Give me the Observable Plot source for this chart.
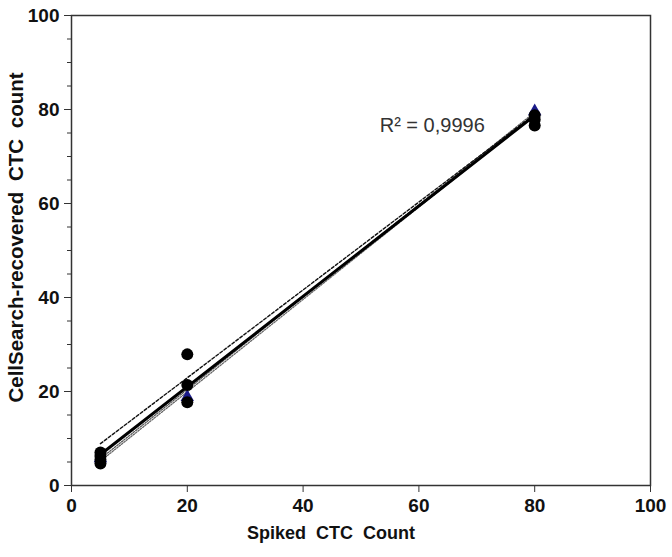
<!DOCTYPE html>
<html><head><meta charset="utf-8">
<script src="https://cdn.jsdelivr.net/npm/d3@7"></script>
<script src="https://cdn.jsdelivr.net/npm/@observablehq/plot@0.6"></script>
<style>body{margin:0;background:#fff}
.wide text{word-spacing:5px}</style>
</head><body><div id="chart"></div>
<script>
const spiked = [5, 5, 5, 5, 20, 20, 20, 80, 80, 80];
const recovered = [4.7, 5.5, 6.3, 7.0, 27.9, 21.4, 17.7, 76.6, 77.8, 78.8];
const meanX = [5, 20, 80];
const meanY = [5.8, 18.8, 79.6];
const fitX = [5, 80];
const fitY = [6.6, 78.7];
const dashedY = [8.9, 79.0];
const dotted1Y = [5.7, 79.4];
const dotted2Y = [5.2, 78.9];
const majorTicks = [0, 20, 40, 60, 80, 100];
const minorTicksY = d3.range(0, 101, 5);
const r2Label = "R² = 0,9996";

const pts = spiked.map((x, i) => ({x, y: recovered[i]}));
const means = meanX.map((x, i) => ({x, y: meanY[i]}));
const seg = (ys) => fitX.map((x, i) => ({x, y: ys[i]}));

const font = "'Liberation Sans', Arial, sans-serif";
const chart = Plot.plot({
  width: 672, height: 557,
  marginLeft: 71, marginRight: 22, marginTop: 15, marginBottom: 72,
  style: {fontFamily: font, background: "#fff"},
  x: {domain: [0, 100]},
  y: {domain: [0, 100]},
  marks: [
    Plot.frame({stroke: "#333", strokeWidth: 1.5}),
    Plot.axisY({ticks: minorTicksY, tickSize: 4, text: null, stroke: "#333", label: null}),
    Plot.axisY({ticks: majorTicks, tickSize: 7, tickPadding: 5, stroke: "#333", fill: "#111",
      fontSize: 19, fontWeight: "bold", label: null}),
    Plot.axisX({ticks: majorTicks, tickSize: 7, tickPadding: 6, stroke: "#333", fill: "#111",
      fontSize: 19, fontWeight: "bold", label: null}),
    Plot.text(["Spiked CTC Count"], {frameAnchor: "bottom", dx: -30, dy: 53, fontSize: 18, fontWeight: "bold", fill: "#111", className: "wide"}),
    Plot.text(["CellSearch-recovered CTC count"], {frameAnchor: "left", dx: -55, dy: -13, rotate: -90, textAnchor: "middle", fontSize: 20.5, fontWeight: "bold", fill: "#111", className: "wide"}),
    Plot.line(seg(dotted2Y), {x: "x", y: "y", stroke: "#666", strokeWidth: 1.3, strokeDasharray: "1.5,1.5"}),
    Plot.line(seg(dotted1Y), {x: "x", y: "y", stroke: "#555", strokeWidth: 1.3, strokeDasharray: "1.5,1.5"}),
    Plot.line(seg(dashedY), {x: "x", y: "y", stroke: "#111", strokeWidth: 1.4, strokeDasharray: "3,2"}),
    Plot.line(seg(fitY), {x: "x", y: "y", stroke: "#000", strokeWidth: 3}),
    Plot.dot(means, {x: "x", y: "y", symbol: "triangle", fill: "#1a1a8a", r: 5}),
    Plot.dot(pts, {x: "x", y: "y", fill: "#000", r: 6}),
    Plot.text([r2Label], {x: [62.3], y: [76.5], fontSize: 20, fill: "#333", textAnchor: "middle"})
  ]
});
document.getElementById("chart").appendChild(chart);
</script>
</body></html>
